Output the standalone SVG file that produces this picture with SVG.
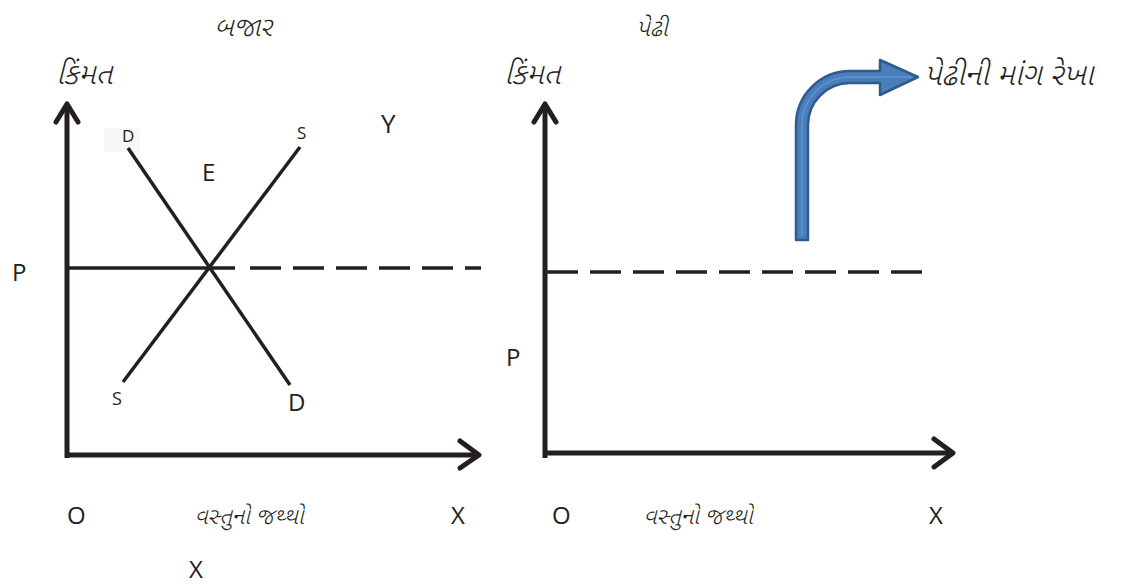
<svg xmlns="http://www.w3.org/2000/svg" width="1131" height="587" viewBox="0 0 1131 587">
<style>
.lat{font-family:"Open Sans","Liberation Sans",sans-serif;fill:#231f20}
.guj{font-family:"Noto Sans Gujarati","Noto Serif Gujarati","Lohit Gujarati",sans-serif;font-style:italic;font-weight:300;fill:#231f20}
.axis{stroke:#231f20;stroke-width:5;fill:none}
.head{stroke:#231f20;stroke-width:5;fill:none;stroke-linecap:round;stroke-linejoin:round}
.curve{stroke:#231f20;stroke-width:3.5;fill:none}
.dash{stroke:#231f20;stroke-width:3.5;fill:none;stroke-dasharray:31 12}
</style>
<rect width="1131" height="587" fill="#fff"/>
<g id="market">
<text class="guj" x="243" y="36" font-size="27" text-anchor="middle">બજાર</text>
<text class="guj" x="56" y="84" font-size="30">કિંમત</text>
<rect x="104" y="128" width="36" height="24" fill="#f7f7f7"/>
<path class="axis" d="M67 104 V458 M65 455 H478"/>
<path class="head" d="M56 122 L67 104 L78 122 M460 441 L479 455 L460 468"/>
<path class="curve" d="M128 148 L290 385"/>
<path class="curve" d="M300 147 L123 382"/>
<path class="curve" d="M67 268 H235" stroke-width="3"/>
<path class="dash" d="M250 268 H481" stroke-width="3"/>
<text class="lat" x="122" y="142" font-size="17">D</text>
<text class="lat" x="297" y="139" font-size="17">S</text>
<text class="lat" x="202" y="181" font-size="24">E</text>
<text class="lat" x="381" y="133" font-size="26">Y</text>
<text class="lat" x="12" y="281" font-size="24">P</text>
<text class="lat" x="112" y="405" font-size="18">S</text>
<text class="lat" x="288" y="411" font-size="24">D</text>
<text class="lat" x="67" y="524" font-size="24">O</text>
<text class="guj" x="249" y="524" font-size="23" text-anchor="middle">વસ્તુનો જથ્થો</text>
<text class="lat" x="451" y="524" font-size="24">X</text>
<text class="lat" x="189" y="578" font-size="24">X</text>
</g>
<g id="firm">
<text class="guj" x="652" y="36" font-size="24" text-anchor="middle">પેઢી</text>
<text class="guj" x="504" y="84" font-size="30">કિંમત</text>
<path class="axis" d="M545 104 V458 M543 453 H953"/>
<path class="head" d="M534 122 L545 104 L556 122 M934 439 L953 453 L934 467"/>
<path class="dash" d="M547 272 H930" stroke-width="3"/>
<text class="lat" x="506" y="366" font-size="24">P</text>
<text class="lat" x="552" y="524" font-size="24">O</text>
<text class="guj" x="698" y="524" font-size="23" text-anchor="middle">વસ્તુનો જથ્થો</text>
<text class="lat" x="929" y="524" font-size="24">X</text>
</g>
<g id="demand-arrow">
<path d="M796 240 V125 A54 54 0 0 1 850 71 H880 V60 L918 77 L880 95 V83 H850 A42 42 0 0 0 808 125 V240 Z" fill="#4a7ebb" stroke="#2f5a8f" stroke-width="2.5" stroke-linejoin="round"/>
<path d="M802 236 V125 A48 48 0 0 1 850 77 H912" fill="none" stroke="#5b8fcc" stroke-width="2"/>
<text class="guj" x="924" y="85" font-size="31">પેઢીની માંગ રેખા</text>
</g>
</svg>
